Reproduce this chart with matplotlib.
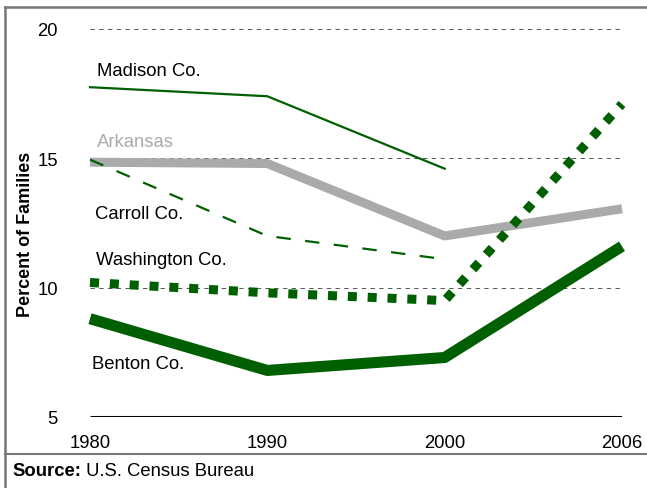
import matplotlib
matplotlib.use('Agg')
import matplotlib.pyplot as plt
from matplotlib.lines import Line2D

plt.rcParams['font.family'] = ['Liberation Sans', 'DejaVu Sans']
plt.rcParams['font.size'] = 13.3

###  DATA  ###

years = ['1980', '1990', '2000', '2006']
madison = [17.75, 17.4, 14.6]
arkansas = [14.85, 14.8, 12.0, 13.05]
carroll = [14.95, 12.0, 11.1]
washington = [10.2, 9.8, 9.5, 17.1]
benton = [8.8, 6.8, 7.3, 11.6]
yticks = [5, 10, 15, 20]

green = '#005f00'
grey = '#aaaaaa'

###  PLOT  ###

fig = plt.figure(figsize=(6.47, 4.89), dpi=100)
ax = fig.add_axes([90/647, 1-418/489, 532/647, 388/489])

x = list(range(len(years)))

for g in [10, 15, 20]:
    ax.axhline(g, color='#555555', lw=0.7, ls=(0, (4.5, 4.5)), zorder=1)
ax.axhline(5, color='black', lw=2.2, zorder=1, solid_capstyle='butt')

ax.plot(x[:3], madison, color=green, lw=1.6, clip_on=False, zorder=3)
ax.plot(x, arkansas, color=grey, lw=6.5, clip_on=False, zorder=2,
        solid_capstyle='butt')
ax.plot(x[:3], carroll, color=green, lw=1.6, ls=(0, (6.5, 6.5)),
        clip_on=False, zorder=3)
ax.plot(x, washington, color=green, lw=6.5, ls=(0, (1, 1.2)),
        clip_on=False, zorder=4)
ax.plot(x, benton, color=green, lw=8, clip_on=False, zorder=4,
        solid_capstyle='butt')

ax.text(0.04, 18.4, 'Madison Co.', va='center', ha='left')
ax.text(0.04, 15.65, 'Arkansas', va='center', ha='left', color=grey)
ax.text(0.03, 12.87, 'Carroll Co.', va='center', ha='left')
ax.text(0.035, 11.09, 'Washington Co.', va='center', ha='left')
ax.text(0.01, 7.07, 'Benton Co.', va='center', ha='left')

ax.set_xlim(0, 3)
ax.set_ylim(5, 20)
ax.set_xticks(x)
ax.set_xticklabels(years)
ax.set_yticks(yticks)
ax.tick_params(axis='both', length=0)
ax.tick_params(axis='y', pad=23)
ax.tick_params(axis='x', pad=12)
for s in ax.spines.values():
    s.set_visible(False)

ax.set_ylabel('Percent of Families', fontweight='bold', fontsize=13)
ax.yaxis.set_label_coords(-0.106, 0.474)

# frame lines round the figure
fig.add_artist(Line2D([5/647, 5/647], [0, 1-8/489], color='#777777', lw=1.8))
fig.add_artist(Line2D([5/647, 1], [1-8/489, 1-8/489], color='#777777', lw=1.8))
fig.add_artist(Line2D([5/647, 1], [1-455/489, 1-455/489], color='#777777', lw=1.5))

t1 = fig.text(12/647, 1-472/489, 'Source:', fontweight='bold', va='center', ha='left')
ax.annotate(' U.S. Census Bureau', xy=(1, 0.5), xycoords=t1, va='center',
            ha='left', annotation_clip=False)

fig.savefig('out.png', dpi=100)
